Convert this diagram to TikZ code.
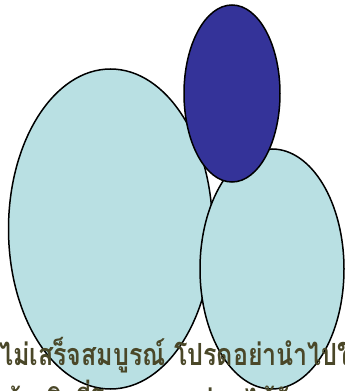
\documentclass[tikz,border=0pt]{standalone}
\usepackage{fontspec}
\usetikzlibrary{shapes.geometric}
\newfontfamily\thaifont[Script=Thai]{Loma}
\definecolor{paleteal}{HTML}{B9E0E3}
\definecolor{deepblue}{HTML}{343399}
\definecolor{olivetext}{HTML}{4A4728}
\tikzset{
  blob/.style={ellipse, draw=black, line width=1.5pt, inner sep=0pt},
  warn/.style={text=olivetext, font=\thaifont\bfseries\fontsize{25}{30}\selectfont, inner sep=0pt, anchor=base west, yscale=1.22, transform shape}
}
\begin{document}
\begin{tikzpicture}[x=1pt,y=1pt]
\useasboundingbox (0,0) rectangle (345,391);
\clip (0,0) rectangle (345,391);
\node[blob, fill=paleteal, minimum width=204pt, minimum height=320pt] (big) at (110.5,162) {};
\node[blob, fill=paleteal, minimum width=144pt, minimum height=240pt] (right) at (272,122) {};
\node[blob, fill=deepblue, minimum width=96pt, minimum height=177pt] (top) at (232,297.5) {};
\node[warn] (line1) at (-1,25) {ไม่เสร็จสมบูรณ์ โปรดอย่านำไปใช้อ้างอิง};
\node[warn] (line2) at (6,-21) {อ้างอิงที่โครงการ ก่อนได้รับอนุญาตนั้น};
\end{tikzpicture}
\end{document}
